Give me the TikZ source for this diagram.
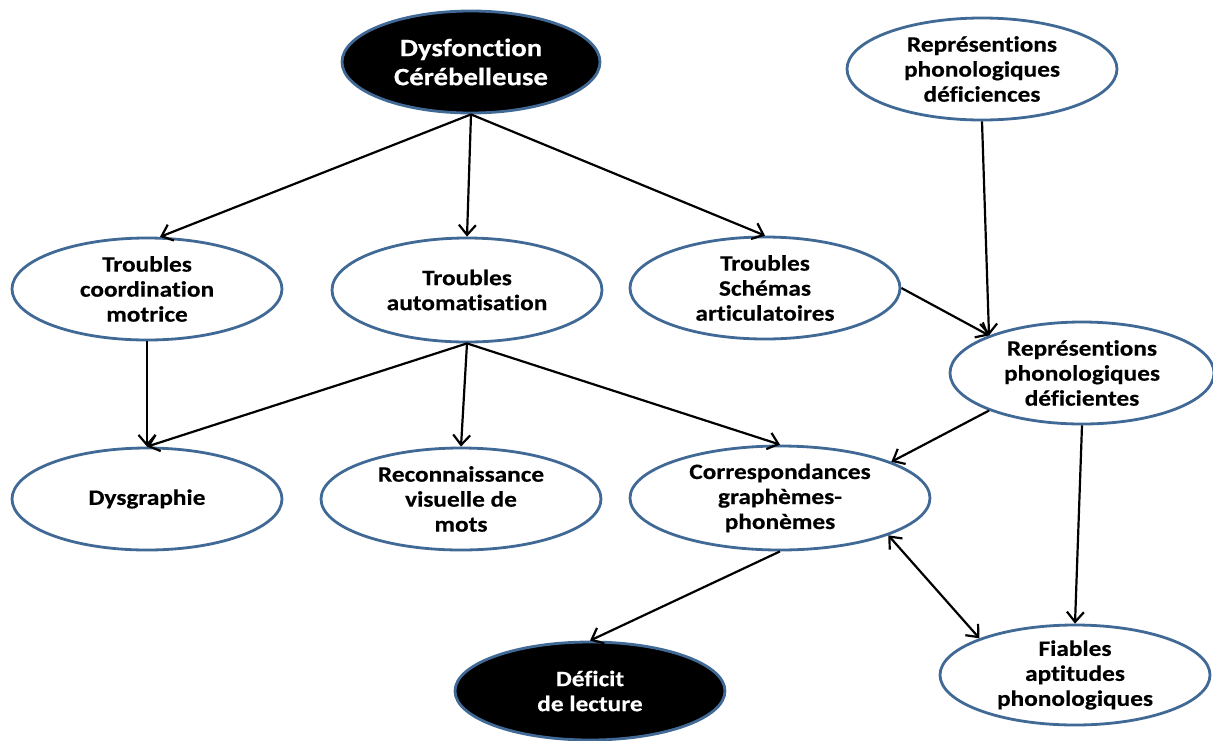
\documentclass[tikz,border=0pt]{standalone}
\usepackage{fontspec}
\setmainfont[FakeStretch=1.15, Ligatures=NoCommon, FakeBold=0.4]{Carlito}
\usetikzlibrary{shapes.geometric,arrows.meta}
\definecolor{edgeblue}{RGB}{65,105,150}
\tikzset{
  bub/.style={ellipse, draw=edgeblue, line width=2.8pt, fill=white, inner sep=0pt,
    align=center, font=\fontsize{22}{25}\selectfont\bfseries, text=black},
  darkbub/.style={bub, fill=black, text=white},
  arr/.style={line width=2.2pt, -{Straight Barb[length=10pt,width=17pt,line width=2.2pt]}},
  arrb/.style={line width=2.2pt, {Straight Barb[length=10pt,width=17pt,line width=2.2pt]}-{Straight Barb[length=10pt,width=17pt,line width=2.2pt]}}
}
\begin{document}
\begin{tikzpicture}[x=1pt,y=-1pt]
\useasboundingbox (0,0) rectangle (1213,740);
\node[darkbub, minimum width=258pt, minimum height=102pt, font=\fontsize{25}{29}\selectfont\bfseries] (dys) at (471,62) {Dysfonction\\Cérébelleuse};
\node[bub, minimum width=270pt, minimum height=102pt] (rpc) at (982,69) {Représentions\\phonologiques\\déficiences};
\node[bub, minimum width=270pt, minimum height=102pt] (tcm) at (147,289) {Troubles\\coordination\\motrice};
\node[bub, minimum width=270pt, minimum height=104pt] (ta) at (467,290) {Troubles\\automatisation};
\node[bub, minimum width=270pt, minimum height=102pt] (tsa) at (765,288) {Troubles\\Schémas\\articulatoires};
\node[bub, minimum width=264pt, minimum height=102pt] (rpd) at (1082,373) {Représentions\\phonologiques\\déficientes};
\node[bub, minimum width=270pt, minimum height=102pt] (dysg) at (147,499) {Dysgraphie};
\node[bub, minimum width=280pt, minimum height=102pt] (rvm) at (461,499) {Reconnaissance\\visuelle de\\mots};
\node[bub, minimum width=300pt, minimum height=104pt] (cgp) at (780,498) {Correspondances\\graphèmes-\\phonèmes};
\node[darkbub, minimum width=270pt, minimum height=98pt] (dl) at (590,691) {Déficit\\de lecture};
\node[bub, minimum width=270pt, minimum height=100pt] (fap) at (1075,675) {Fiables\\aptitudes\\phonologiques};

\draw[arr] (dys.south) -- (tcm.76);
\draw[arr] (dys.south) -- (ta.north);
\draw[arr] (dys.south) -- (tsa.north);
\draw[arr] (rpc.south) -- (rpd.158);
\draw[arr] (tsa.east) -- (rpd.158);
\draw[arr] (tcm.south) -- (dysg.north);
\draw[arr] (ta.south) -- (dysg.north);
\draw[arr] (ta.south) -- (rvm.north);
\draw[arr] (ta.south) -- (cgp.north);
\draw[arr] (rpd.202) -- (cgp.18);
\draw[arr] (rpd.south) -- (fap.north);
\draw[arr] (cgp.south) -- (dl.north);
\draw[arrb] (cgp.-19) -- (fap.159);
\end{tikzpicture}
\end{document}
